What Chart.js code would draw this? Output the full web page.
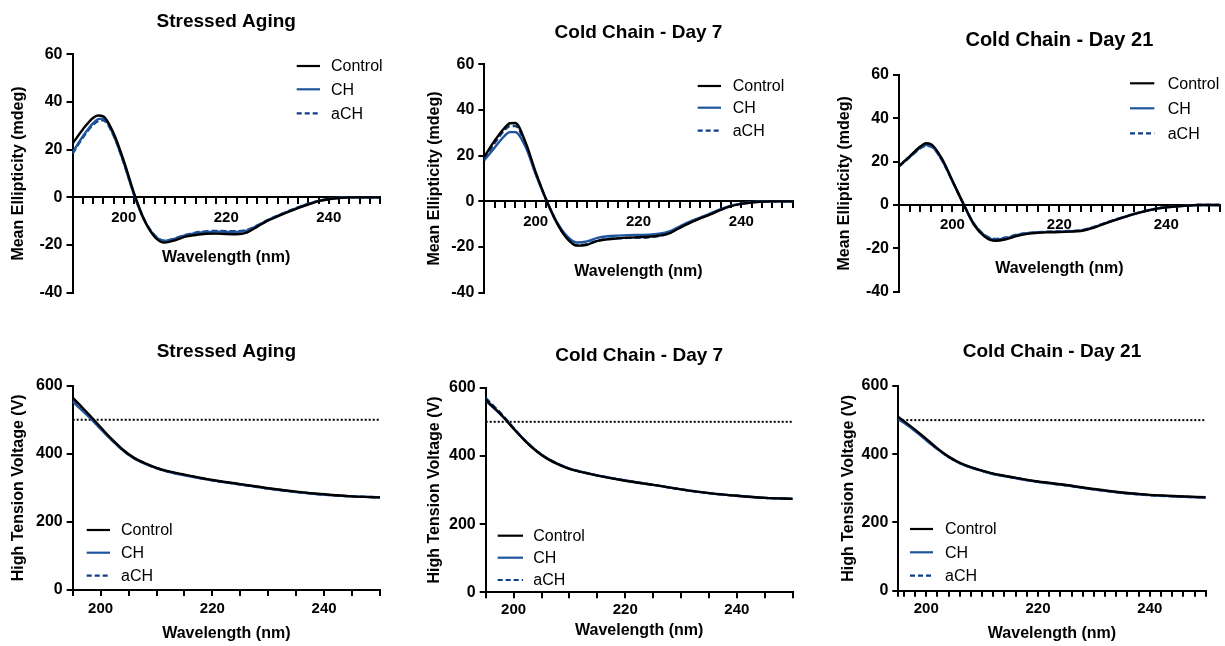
<!DOCTYPE html>
<html>
<head>
<meta charset="utf-8">
<title>CD spectra and HT voltage</title>
<script src="https://cdn.jsdelivr.net/npm/chart.js@4.4.1/dist/chart.umd.min.js"></script>
<style>
  html, body { margin: 0; padding: 0; background: #fff; }
  body { width: 1225px; height: 646px; position: relative; overflow: hidden; }
  canvas { position: absolute; }
</style>
</head>
<body>
<canvas id="p1"></canvas>
<canvas id="p2"></canvas>
<canvas id="p3"></canvas>
<canvas id="p4"></canvas>
<canvas id="p5"></canvas>
<canvas id="p6"></canvas>
<script>
// Series names / styles
const seriesNames = ['Control', 'CH', 'aCH'];
const seriesColors = ['#000000', '#1f559e', '#0f3d87'];
const seriesDash = [[], [], [6, 3]];

// CD spectra (mdeg) - wavelength grid
const cdWl = [190, 192, 194, 195, 196, 198, 200, 202, 204, 206, 208, 210, 212, 214, 216, 218,
              220, 222, 224, 226, 228, 230, 232, 234, 236, 238, 240, 242, 244, 246, 248, 250];

const saCdControl = [22.5, 28.5, 33.3, 34.3, 34.0, 27.0, 15.4, 1.8, -9.4, -16.5, -19.0, -18.0, -16.5, -15.8, -15.3, -15.2,
                     -15.4, -15.5, -14.8, -12.4, -9.9, -8.0, -6.2, -4.5, -3.0, -1.6, -0.8, -0.3, 0, 0, 0, 0];
const saCdCH      = [18.8, 25.5, 31.0, 32.8, 33.0, 26.2, 14.5, 1.2, -9.6, -16.0, -18.3, -17.3, -16.0, -15.0, -14.6, -14.4,
                     -14.5, -14.5, -14.0, -12.0, -9.7, -7.8, -6.0, -4.3, -2.8, -1.5, -0.7, -0.2, 0, 0, 0, 0];
const saCdACH     = [18.3, 25.0, 30.5, 32.0, 32.3, 26.0, 14.5, 1.2, -9.4, -15.8, -18.2, -17.2, -15.8, -14.8, -14.3, -14.1,
                     -14.2, -14.2, -13.7, -11.8, -9.6, -7.7, -5.9, -4.2, -2.7, -1.5, -0.7, -0.2, 0, 0, 0, 0];

const d7CdControl = [19.5, 26.5, 32.3, 34.2, 34.3, 26.0, 12.8, 1.0, -9.0, -16.0, -19.4, -19.0, -17.3, -16.6, -16.2, -15.9,
                     -15.7, -15.5, -15.0, -14.0, -11.6, -9.4, -7.5, -5.7, -3.7, -2.1, -1.1, -0.5, -0.2, 0, 0, 0];
const d7CdCH      = [18.0, 23.5, 28.8, 30.3, 30.3, 24.0, 11.8, 0.8, -8.5, -15.0, -18.0, -17.5, -16.0, -15.3, -15.0, -14.8,
                     -14.7, -14.6, -14.2, -13.2, -11.0, -8.9, -7.1, -5.3, -3.4, -1.9, -1.0, -0.4, -0.1, 0, 0, 0];
const d7CdACH     = [18.5, 25.5, 31.3, 33.0, 33.0, 25.3, 12.2, 1.0, -8.9, -15.8, -19.2, -18.7, -17.2, -16.5, -16.2, -16.0,
                     -15.9, -15.7, -15.2, -14.0, -11.5, -9.3, -7.4, -5.6, -3.6, -2.0, -1.0, -0.5, -0.2, 0, 0, 0];

const d21CdControl = [18.0, 22.5, 27.0, 28.5, 28.0, 21.5, 11.2, 0.8, -9.0, -14.5, -16.5, -15.8, -14.3, -13.3, -12.8, -12.6,
                      -12.5, -12.3, -12.0, -10.8, -9.0, -7.3, -5.7, -4.2, -2.9, -1.8, -1.1, -0.6, -0.3, 0, 0, 0];
const d21CdCH      = [18.0, 22.2, 26.5, 27.7, 27.3, 21.0, 11.0, 0.8, -8.7, -14.0, -15.9, -15.3, -13.9, -13.0, -12.6, -12.4,
                      -12.3, -12.1, -11.8, -10.6, -8.9, -7.2, -5.6, -4.1, -2.8, -1.7, -1.0, -0.6, -0.3, 0, 0, 0];
const d21CdACH     = [17.8, 22.0, 26.2, 27.3, 27.0, 20.8, 10.9, 0.8, -8.5, -13.8, -15.6, -15.0, -13.7, -12.9, -12.5, -12.3,
                      -12.2, -12.0, -11.7, -10.5, -8.8, -7.1, -5.6, -4.1, -2.8, -1.7, -1.0, -0.6, -0.3, 0, 0, 0];

// High tension voltage (V) - wavelength grid
const htWl = [195, 196, 198, 200, 202, 204, 206, 208, 210, 212, 215, 220, 225, 230, 235, 240, 245, 250];

const saHtControl = [565, 548, 514, 478, 443, 412, 388, 372, 359, 349, 339, 323, 311, 299, 289, 281, 275, 272];
const saHtCH      = [553, 538, 507, 473, 440, 410, 386, 370, 358, 348, 337, 322, 310, 298, 288, 280, 275, 272];
const saHtACH     = [556, 541, 509, 474, 441, 410, 387, 371, 358, 348, 338, 322, 310, 298, 288, 280, 275, 272];

const d7HtControl = [565, 549, 517, 480, 445, 415, 392, 375, 362, 353, 342, 327, 315, 302, 291, 283, 277, 274];
const d7HtCH      = [562, 547, 516, 480, 446, 416, 393, 376, 363, 354, 343, 328, 315, 302, 291, 283, 277, 274];
const d7HtACH     = [570, 553, 520, 482, 446, 416, 393, 376, 363, 354, 343, 328, 315, 302, 291, 283, 277, 274];

const d21HtControl = [509, 497, 472, 445, 417, 393, 375, 362, 352, 343, 334, 320, 310, 298, 288, 281, 277, 274];
const d21HtCH      = [503, 492, 468, 441, 415, 392, 374, 361, 351, 342, 333, 319, 309, 297, 287, 280, 276, 273];
const d21HtACH     = [505, 494, 469, 442, 415, 392, 374, 361, 351, 342, 333, 319, 309, 297, 287, 280, 276, 273];

// Axis ticks
const ellipTicks = [-40, -20, 0, 20, 40, 60];
const voltTicks = [0, 200, 400, 600];
const waveLabels = [200, 220, 240];
const cdRange = [190, 250];
const htRange = [195, 250];
const thresholdV = 500;

const FONT = "'Liberation Sans', Arial, Helvetica, sans-serif";
Chart.defaults.font.family = FONT;
Chart.defaults.color = '#000';

function range(a, b, step) {
    const out = [];
    for (let v = a; v <= b + 1e-9; v += step) out.push(v);
    return out;
}

function pts(xs, ys) {
    return xs.map(function(x, i) { return { x: x, y: ys[i] }; });
}

// Title drawn centered over the plot area
const panelTitle = {
    id: 'panelTitle',
    afterDraw: function(chart, args, o) {
        const ctx = chart.ctx;
        const ca = chart.chartArea;
        ctx.save();
        ctx.font = 'bold ' + o.size + 'px ' + FONT;
        ctx.fillStyle = '#000';
        ctx.textAlign = 'center';
        ctx.textBaseline = 'alphabetic';
        ctx.fillText(o.text, (ca.left + ca.right) / 2, o.y);
        ctx.restore();
    }
};

// Small legend with line samples
const panelLegend = {
    id: 'panelLegend',
    afterDraw: function(chart, args, o) {
        const ctx = chart.ctx;
        ctx.save();
        ctx.font = '16px ' + FONT;
        ctx.textAlign = 'left';
        ctx.textBaseline = 'middle';
        o.rows.forEach(function(y, i) {
            const ds = chart.data.datasets[i];
            ctx.strokeStyle = ds.borderColor;
            ctx.lineWidth = 2.2;
            ctx.setLineDash(i === 2 ? [5, 3] : []);
            ctx.beginPath();
            ctx.moveTo(o.x1, y);
            ctx.lineTo(o.x2, y);
            ctx.stroke();
            ctx.setLineDash([]);
            ctx.fillStyle = '#000';
            ctx.fillText(ds.label, o.tx, y + 1);
        });
        ctx.restore();
    }
};

function makePanel(id, p) {
    const cv = document.getElementById(id);
    const c = p.canvas;
    const a = p.area;
    cv.width = c.w;
    cv.height = c.h;
    cv.style.left = c.x + 'px';
    cv.style.top = c.y + 'px';

    const top = p.kind === 'cd';
    const yMin = top ? -40 : 0;
    const yMax = top ? 60 : 600;
    const scaleLeft = p.yTitleX - 9.6;
    const yW = a.l - scaleLeft;
    const axisY = top ? a.t + (yMax / (yMax - yMin)) * (a.b - a.t) : a.b;
    const xH = p.xTitleY + 9.6 - axisY;
    const padB = c.y + c.h - a.b - (top ? 0 : xH);

    const wl = top ? cdWl : htWl;
    const datasets = p.series.map(function(s, i) {
        return {
            label: seriesNames[i],
            data: pts(wl, s),
            borderColor: seriesColors[i],
            borderDash: seriesDash[i],
            borderWidth: 2.4,
            pointRadius: 0,
            cubicInterpolationMode: 'monotone',
            fill: false
        };
    });
    if (!top) {
        datasets.push({
            label: '',
            data: [{ x: htRange[0], y: thresholdV }, { x: htRange[1], y: thresholdV }],
            borderColor: '#000',
            borderDash: [2, 2],
            borderWidth: 2,
            pointRadius: 0,
            fill: false
        });
    }

    const xr = top ? cdRange : htRange;
    const xTickFont = { size: 15, weight: 'bold' };
    const yTickFont = { size: 16, weight: 'bold' };
    const titleFont = { size: 16, weight: 'bold' };

    return new Chart(cv, {
        type: 'line',
        data: { datasets: datasets },
        plugins: [panelTitle, panelLegend],
        options: {
            responsive: false,
            animation: false,
            devicePixelRatio: 1,
            layout: {
                padding: { left: scaleLeft - c.x, top: a.t - c.y, right: c.x + c.w - a.r, bottom: padB }
            },
            plugins: {
                legend: { display: false },
                tooltip: { enabled: false },
                panelTitle: { text: p.title, size: p.titleSize || 19, y: p.titleBase - c.y },
                panelLegend: {
                    x1: p.legend.x1 - c.x, x2: p.legend.x2 - c.x, tx: p.legend.tx - c.x,
                    rows: p.legend.ys.map(function(y) { return y - c.y; })
                }
            },
            scales: {
                x: {
                    type: 'linear',
                    min: xr[0],
                    max: xr[1],
                    position: top ? { y: 0 } : 'bottom',
                    afterFit: function(s) { s.height = xH; },
                    afterBuildTicks: function(s) { s.ticks = p.xTicks.map(function(v) { return { value: v }; }); },
                    ticks: {
                        autoSkip: false, maxRotation: 0, minRotation: 0,
                        padding: p.xGap - 6 - 9,
                        font: xTickFont, color: '#000',
                        callback: function(v) { return waveLabels.indexOf(v) >= 0 ? String(v) : ''; }
                    },
                    grid: { drawOnChartArea: false, drawTicks: true, tickLength: 6, color: '#000', lineWidth: 2 },
                    border: { display: true, color: '#000', width: 2 },
                    title: { display: true, text: 'Wavelength (nm)', font: titleFont, padding: 0, color: '#000' }
                },
                y: {
                    type: 'linear',
                    min: yMin,
                    max: yMax,
                    afterFit: function(s) { s.width = yW; },
                    afterBuildTicks: function(s) {
                        s.ticks = (top ? ellipTicks : voltTicks).map(function(v) { return { value: v }; });
                    },
                    ticks: { padding: 4, font: yTickFont, color: '#000', callback: function(v) { return String(v); } },
                    grid: { drawOnChartArea: false, drawTicks: true, tickLength: 6, color: '#000', lineWidth: 2 },
                    border: { display: true, color: '#000', width: 2 },
                    title: {
                        display: true,
                        text: top ? 'Mean Ellipticity (mdeg)' : 'High Tension Voltage (V)',
                        font: titleFont, padding: 0, color: '#000'
                    }
                }
            }
        }
    });
}

const cdMinor = range(190, 250, 2);
const htMinor5 = range(195, 250, 5);
const htMinor2 = [195].concat(range(196, 250, 2));

makePanel('p1', {
    kind: 'cd', title: 'Stressed Aging', titleBase: 26.7,
    canvas: { x: 0, y: 0, w: 410, h: 323 },
    area: { l: 72.5, r: 380, t: 54.3, b: 292.7 },
    yTitleX: 18.3, xTitleY: 257.3, xGap: 20.6, xTicks: cdMinor,
    legend: { x1: 296.7, x2: 320, tx: 331, ys: [66, 89.3, 113.3] },
    series: [saCdControl, saCdCH, saCdACH]
});

makePanel('p2', {
    kind: 'cd', title: 'Cold Chain - Day 7', titleBase: 38.3,
    canvas: { x: 410, y: 0, w: 410, h: 323 },
    area: { l: 484.3, r: 792.7, t: 64.3, b: 292.7 },
    yTitleX: 435, xTitleY: 271.7, xGap: 20.4, xTicks: cdMinor,
    legend: { x1: 697.7, x2: 721, tx: 732.7, ys: [86, 107.7, 130.7] },
    series: [d7CdControl, d7CdCH, d7CdACH]
});

makePanel('p3', {
    kind: 'cd', title: 'Cold Chain - Day 21', titleBase: 45.7, titleSize: 20,
    canvas: { x: 820, y: 0, w: 405, h: 323 },
    area: { l: 899, r: 1223.5, t: 75, b: 291.7 },
    yTitleX: 845, xTitleY: 268.3, xGap: 20.3, xTicks: cdMinor,
    legend: { x1: 1130, x2: 1154.3, tx: 1167.7, ys: [83.3, 108.3, 133.3] },
    series: [d21CdControl, d21CdCH, d21CdACH]
});

makePanel('p4', {
    kind: 'ht', title: 'Stressed Aging', titleBase: 356.7,
    canvas: { x: 0, y: 323, w: 410, h: 323 },
    area: { l: 72.7, r: 380, t: 385.7, b: 590 },
    yTitleX: 18.3, xTitleY: 634, xGap: 19.3, xTicks: htMinor5,
    legend: { x1: 86.7, x2: 110, tx: 121, ys: [530, 552.7, 575.7] },
    series: [saHtControl, saHtCH, saHtACH]
});

makePanel('p5', {
    kind: 'ht', title: 'Cold Chain - Day 7', titleBase: 360.7,
    canvas: { x: 410, y: 323, w: 410, h: 323 },
    area: { l: 485.7, r: 792.7, t: 387.7, b: 592.3 },
    yTitleX: 435, xTitleY: 630.7, xGap: 17.7, xTicks: htMinor5,
    legend: { x1: 497.7, x2: 523, tx: 533.3, ys: [535.7, 557.7, 580] },
    series: [d7HtControl, d7HtCH, d7HtACH]
});

makePanel('p6', {
    kind: 'ht', title: 'Cold Chain - Day 21', titleBase: 357.3,
    canvas: { x: 820, y: 323, w: 405, h: 323 },
    area: { l: 898.3, r: 1205.7, t: 386, b: 590.7 },
    yTitleX: 848.3, xTitleY: 634, xGap: 18.6, xTicks: htMinor2,
    legend: { x1: 910, x2: 933, tx: 945, ys: [529, 552.3, 575.7] },
    series: [d21HtControl, d21HtCH, d21HtACH]
});
</script>
</body>
</html>
